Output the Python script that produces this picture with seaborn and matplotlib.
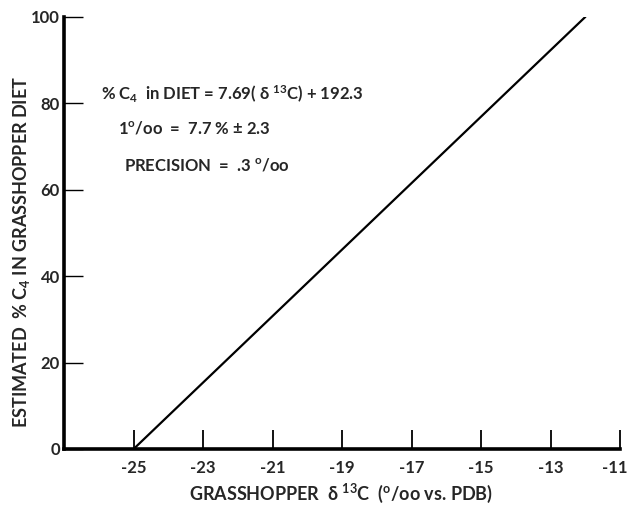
import matplotlib
matplotlib.use("Agg")
import matplotlib.pyplot as plt
import matplotlib.transforms as mtransforms
import seaborn as sns
import pandas as pd

# regression line, % C4 in diet vs grasshopper d13C
delta13c = [-25.0, -12.0]
pct_c4 = [0.0, 100.0]

x_ticks = [-25, -23, -21, -19, -17, -15, -13, -11]
y_ticks = [0, 20, 40, 60, 80, 100]

notes = [
    r"% C$_4$  in DIET = 7.69( $\delta$ $^{13}$C) + 192.3",
    r"1$^{o}$/oo  =  7.7 % $\pm$ 2.3",
    r"PRECISION  =  .3 $^{o}$/oo",
]

sns.set_style("ticks")
plt.rcParams['font.family'] = ['Lato', 'DejaVu Sans']
plt.rcParams['mathtext.fontset'] = 'custom'
plt.rcParams['mathtext.rm'] = 'Lato:bold'
plt.rcParams['mathtext.it'] = 'Lato:bold'
plt.rcParams['mathtext.bf'] = 'Lato:bold'
plt.rcParams['mathtext.default'] = 'rm'

df = pd.DataFrame({"d13c": delta13c, "c4": pct_c4})

fig = plt.figure(figsize=(6.29, 5.09), dpi=100)
ax = fig.add_axes([0.102, 0.118, 0.884, 0.849])

sns.lineplot(data=df, x="d13c", y="c4", color="black", linewidth=1.6, ax=ax)

ax.set_xlim(-27, -11)
ax.set_ylim(0, 100)
ax.set_xticks(x_ticks)
ax.set_xticklabels([f"-{abs(t)}" for t in x_ticks], fontsize=12, fontweight="bold")
ax.set_yticks(y_ticks)
ax.set_yticklabels([str(t) for t in y_ticks], fontsize=12, fontweight="bold")
ax.tick_params(axis="x", direction="in", length=14, width=1.3, pad=8, color="black")
ax.tick_params(axis="y", direction="in", length=14, width=1.0, pad=3, color="black")

# nudge the last x label so it stays inside the figure
last = ax.get_xticklabels()[-1]
last.set_transform(last.get_transform() +
                   mtransforms.ScaledTranslation(-4 / 72, 0, fig.dpi_scale_trans))

for side in ["top", "right"]:
    ax.spines[side].set_visible(False)
for side in ["left", "bottom"]:
    ax.spines[side].set_linewidth(2.6)
    ax.spines[side].set_color("black")

ax.set_xlabel("")
ax.set_ylabel("")
fig.text(341 / 629, 1 - 493 / 509,
         r"GRASSHOPPER  $\delta$ $^{13}$C  ($^{o}$/oo vs. PDB)",
         fontsize=13, fontweight="bold", ha="center", va="center")
fig.text(22 / 629, 1 - 252 / 509,
         r"ESTIMATED  % C$_4$ IN GRASSHOPPER DIET",
         fontsize=13, fontweight="bold", ha="center", va="center", rotation=90)

ax.text(-25.95, 82, notes[0], fontsize=12, fontweight="bold", va="center")
ax.text(-25.45, 74.3, notes[1], fontsize=12, fontweight="bold", va="center")
ax.text(-25.27, 65.7, notes[2], fontsize=12, fontweight="bold", va="center")

fig.savefig("out.png", dpi=100)
plt.close(fig)
